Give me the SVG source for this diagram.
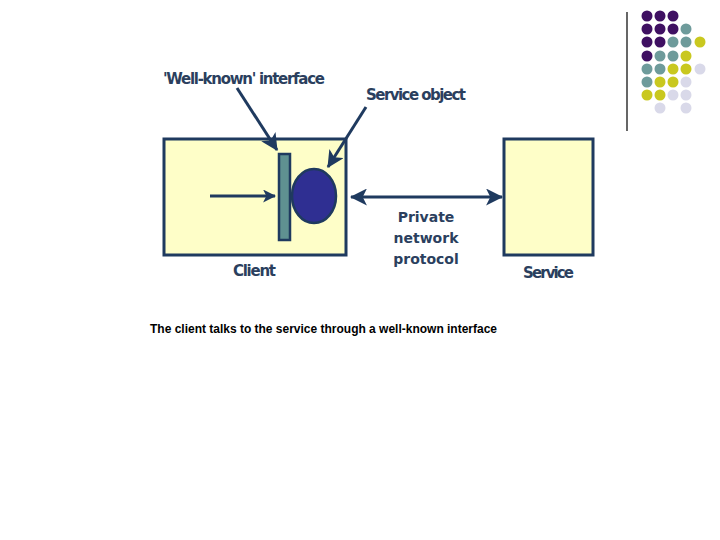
<svg xmlns="http://www.w3.org/2000/svg" width="720" height="540" viewBox="0 0 720 540">
<style>
.box{fill:#fefec8;stroke:#1f3a5f;stroke-width:3}
.lbl{font-family:"DejaVu Sans","Liberation Sans",sans-serif;font-weight:bold;font-size:15px;fill:#2b3f5e}
.mid{font-size:14px}
.ln{stroke:#1f3a5f;stroke-width:3;fill:none}
.cap{font-family:"Liberation Sans",Arial,sans-serif;font-weight:bold;font-size:12px;fill:#000}
.p{fill:#3f1062}.t{fill:#6e9b9b}.y{fill:#c9c81f}.l{fill:#d9d9e9}
</style>
<defs>
<marker id="ah" viewBox="0 0 12 12" refX="11" refY="6" markerWidth="13" markerHeight="13" markerUnits="userSpaceOnUse" orient="auto-start-reverse">
<path d="M0,0 L12,6 L0,12 L3,6 Z" fill="#1f3a5f"/>
</marker>
<marker id="ah2" viewBox="0 0 16 16" refX="15" refY="8" markerWidth="17" markerHeight="17" markerUnits="userSpaceOnUse" orient="auto-start-reverse">
<path d="M0,0 L16,8 L0,16 L4,8 Z" fill="#1f3a5f"/>
</marker>
</defs>
<g id="decor">
<line x1="627" y1="12" x2="627" y2="131" stroke="#000" stroke-width="1.2"/>
<g>
<circle class="p" cx="647" cy="16" r="5.5"/><circle class="p" cx="660" cy="16" r="5.5"/><circle class="p" cx="673" cy="16" r="5.5"/>
<circle class="p" cx="647" cy="29" r="5.5"/><circle class="p" cx="660" cy="29" r="5.5"/><circle class="p" cx="673" cy="29" r="5.5"/><circle class="t" cx="686" cy="29" r="5.5"/>
<circle class="p" cx="647" cy="42" r="5.5"/><circle class="p" cx="660" cy="42" r="5.5"/><circle class="t" cx="673" cy="42" r="5.5"/><circle class="t" cx="686" cy="42" r="5.5"/><circle class="y" cx="700" cy="42" r="5.5"/>
<circle class="p" cx="647" cy="56" r="5.5"/><circle class="t" cx="660" cy="56" r="5.5"/><circle class="t" cx="673" cy="56" r="5.5"/><circle class="y" cx="686" cy="56" r="5.5"/>
<circle class="t" cx="647" cy="69" r="5.5"/><circle class="t" cx="660" cy="69" r="5.5"/><circle class="y" cx="673" cy="69" r="5.5"/><circle class="y" cx="686" cy="69" r="5.5"/><circle class="l" cx="700" cy="69" r="5.5"/>
<circle class="t" cx="647" cy="82" r="5.5"/><circle class="y" cx="660" cy="82" r="5.5"/><circle class="y" cx="673" cy="82" r="5.5"/><circle class="l" cx="686" cy="82" r="5.5"/>
<circle class="y" cx="647" cy="95" r="5.5"/><circle class="y" cx="660" cy="95" r="5.5"/><circle class="l" cx="673" cy="95" r="5.5"/><circle class="l" cx="686" cy="95" r="5.5"/>
<circle class="l" cx="660" cy="108" r="5.5"/><circle class="l" cx="686" cy="108" r="5.5"/>
</g>
</g>
<g id="client">
<rect class="box" x="164" y="139" width="182" height="116"/>
<text class="lbl" x="233" y="276" textLength="43">Client</text>
</g>
<g id="interface">
<rect x="279" y="154" width="11" height="86" fill="#5f9191" stroke="#1f3a5f" stroke-width="2.5"/>
</g>
<g id="service-object">
<ellipse cx="314" cy="196" rx="22" ry="27" fill="#2f2f92" stroke="#1f3a5f" stroke-width="2.5"/>
</g>
<g id="service">
<rect class="box" x="504" y="139" width="89" height="116"/>
<text class="lbl" x="523" y="278" textLength="51">Service</text>
</g>
<g id="labels">
<text class="lbl" x="163" y="84" textLength="162">'Well-known' interface</text>
<text class="lbl" x="366" y="100" textLength="100">Service object</text>
<text class="lbl mid" x="426" y="222" text-anchor="middle">Private</text>
<text class="lbl mid" x="426" y="243" text-anchor="middle">network</text>
<text class="lbl mid" x="426" y="264" text-anchor="middle">protocol</text>
</g>
<g id="connectors">
<line class="ln" x1="210" y1="196" x2="275" y2="196" marker-end="url(#ah)"/>
<line class="ln" x1="237" y1="88" x2="277" y2="150" marker-end="url(#ah2)"/>
<line class="ln" x1="366" y1="107" x2="328" y2="167" marker-end="url(#ah2)"/>
<line class="ln" x1="351" y1="197" x2="502" y2="197" marker-start="url(#ah2)" marker-end="url(#ah2)"/>
</g>
<text class="cap" x="150" y="333" textLength="347" lengthAdjust="spacingAndGlyphs">The client talks to the service through a well-known interface</text>
</svg>
